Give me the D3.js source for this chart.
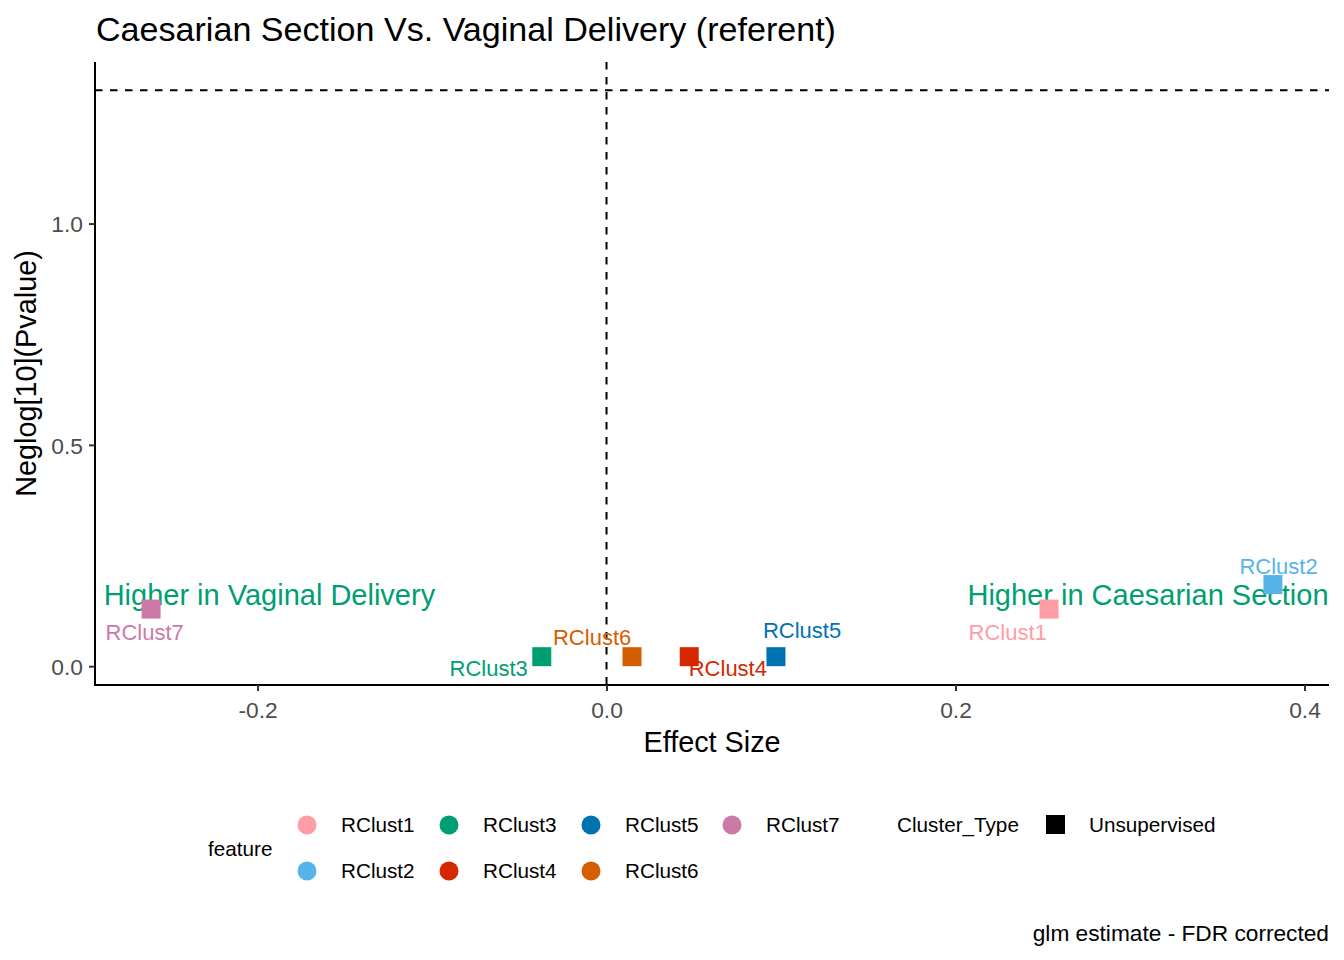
<!DOCTYPE html>
<html>
<head>
<meta charset="utf-8">
<script src="https://cdn.jsdelivr.net/npm/d3@7"></script>
<style>
  body { margin: 0; background: #fff; }
  svg { font-family: "Liberation Sans", Arial, sans-serif; }
</style>
</head>
<body>
<svg id="chart" width="1344" height="960"></svg>
<script>
const features = ["RClust1", "RClust2", "RClust3", "RClust4", "RClust5", "RClust6", "RClust7"];
const effectSize = [0.2536, 0.3819, -0.0371, 0.0474, 0.0971, 0.0146, -0.261];
const neglogP = [0.129, 0.1844, 0.0215, 0.0215, 0.0215, 0.0215, 0.129];
const featureColors = ["#FF9DA7", "#56B4E9", "#009E73", "#D52800", "#0072B2", "#D55E00", "#CC79A7"];
const xTicks = [-0.2, 0.0, 0.2, 0.4];
const yTicks = [0.0, 0.5, 1.0];
const pThreshold = -Math.log10(0.05);
const directionText = ["Higher in Vaginal Delivery", "Higher in Caesarian Section"];
const directionX = [-0.2882, 0.4138];
const directionY = [0.138, 0.138];

// repel-style label nudges (px) relative to each point
const labelNudge = [
  { dx: -80.5, dy: 30.5, anchor: "start" },
  { dx: -33.5, dy: -11, anchor: "start" },
  { dx: -14, dy: 19, anchor: "end" },
  { dx: -0.5, dy: 19, anchor: "start" },
  { dx: -13, dy: -18.5, anchor: "start" },
  { dx: -79, dy: -11.5, anchor: "start" },
  { dx: -45.5, dy: 31, anchor: "start" },
];

const panel = { left: 95, right: 1329, top: 62, bottom: 685 };
const svg = d3.select("#chart");

const data = features.map((f, i) => ({
  feature: f,
  x: effectSize[i],
  y: neglogP[i],
  color: featureColors[i],
  nudge: labelNudge[i],
}));

function expanded(values) {
  const [lo, hi] = d3.extent(values);
  const pad = (hi - lo) * 0.05;
  return [lo - pad, hi + pad];
}

const x = d3
  .scaleLinear()
  .domain(expanded([...effectSize, 0]))
  .range([panel.left, panel.right]);
const y = d3
  .scaleLinear()
  .domain(expanded([...neglogP, pThreshold]))
  .range([panel.bottom, panel.top]);

// reference lines
svg
  .append("line")
  .attr("x1", panel.left)
  .attr("x2", panel.right)
  .attr("y1", y(pThreshold))
  .attr("y2", y(pThreshold))
  .attr("stroke", "#000")
  .attr("stroke-width", 2)
  .attr("stroke-dasharray", "7.5,7.5");
svg
  .append("line")
  .attr("x1", x(0))
  .attr("x2", x(0))
  .attr("y1", panel.top)
  .attr("y2", panel.bottom)
  .attr("stroke", "#000")
  .attr("stroke-width", 2)
  .attr("stroke-dasharray", "7.5,7.5");

// axes
const xAxis = svg
  .append("g")
  .attr("transform", `translate(0,${panel.bottom})`)
  .call(d3.axisBottom(x).tickValues(xTicks).tickFormat(d3.format(".1f")).tickSize(6).tickSizeOuter(0));
const yAxis = svg
  .append("g")
  .attr("transform", `translate(${panel.left},0)`)
  .call(d3.axisLeft(y).tickValues(yTicks).tickFormat(d3.format(".1f")).tickSize(6).tickSizeOuter(0));

[xAxis, yAxis].forEach((g) => {
  g.select(".domain").attr("stroke", "#000").attr("stroke-width", 2);
  g.selectAll(".tick line").attr("stroke", "#333").attr("stroke-width", 2);
  g.selectAll(".tick text")
    .attr("fill", "#4D4D4D")
    .style("font-size", "22.8px");
});
xAxis.selectAll(".tick text").attr("dy", "1.05em").text((d) => d3.format(".1f")(d).replace("−", "-"));
yAxis.selectAll(".tick text").attr("x", -12).attr("dy", "0.36em");
// extend domain lines to meet at the corner
xAxis.select(".domain").attr("d", `M${panel.left - 1},0H${panel.right}`);
yAxis.select(".domain").attr("d", `M0,${panel.top}V${panel.bottom + 1}`);

// direction annotations
svg
  .selectAll(".direction")
  .data(directionText)
  .join("text")
  .attr("class", "direction")
  .attr("x", (d, i) => x(directionX[i]))
  .attr("y", (d, i) => y(directionY[i]))
  .attr("text-anchor", (d, i) => (i ? "end" : "start"))
  .attr("fill", "#009E73")
  .style("font-size", "29px")
  .text((d) => d);

// points
const size = 19;
svg
  .selectAll(".pt")
  .data(data)
  .join("rect")
  .attr("class", "pt")
  .attr("x", (d) => x(d.x) - size / 2)
  .attr("y", (d) => y(d.y) - size / 2)
  .attr("width", size)
  .attr("height", size)
  .attr("fill", (d) => d.color);

// point labels
svg
  .selectAll(".pt-label")
  .data(data)
  .join("text")
  .attr("class", "pt-label")
  .attr("x", (d) => x(d.x) + d.nudge.dx)
  .attr("y", (d) => y(d.y) + d.nudge.dy)
  .attr("text-anchor", (d) => d.nudge.anchor)
  .attr("fill", (d) => d.color)
  .style("font-size", "22px")
  .text((d) => d.feature);

// titles
svg
  .append("text")
  .attr("x", 96)
  .attr("y", 41)
  .style("font-size", "34.1px")
  .text("Caesarian Section Vs. Vaginal Delivery (referent)");
svg
  .append("text")
  .attr("x", (panel.left + panel.right) / 2)
  .attr("y", 752)
  .attr("text-anchor", "middle")
  .style("font-size", "28.8px")
  .text("Effect Size");
svg
  .append("text")
  .attr("transform", `translate(36,${(panel.top + panel.bottom) / 2}) rotate(-90)`)
  .attr("text-anchor", "middle")
  .style("font-size", "28.8px")
  .text("Neglog[10](Pvalue)");

// legend
const legend = svg.append("g").style("font-size", "20.7px");
legend.append("text").attr("x", 208).attr("y", 856).text("feature");
const colX = [307, 449, 591, 732];
const rowY = [825, 871];
const item = legend
  .selectAll(".legend-item")
  .data(data)
  .join("g")
  .attr("class", "legend-item")
  .attr("transform", (d, i) => `translate(${colX[Math.floor(i / 2)]},${rowY[i % 2]})`);
item.append("circle").attr("r", 9.5).attr("fill", (d) => d.color);
item
  .append("text")
  .attr("x", 34)
  .attr("dy", "0.36em")
  .text((d) => d.feature);

legend.append("text").attr("x", 897).attr("y", rowY[0]).attr("dy", "0.36em").text("Cluster_Type");
legend
  .append("rect")
  .attr("x", 1046)
  .attr("y", rowY[0] - 10)
  .attr("width", 19)
  .attr("height", 19)
  .attr("fill", "#000");
legend.append("text").attr("x", 1089).attr("y", rowY[0]).attr("dy", "0.36em").text("Unsupervised");

svg
  .append("text")
  .attr("x", 1329)
  .attr("y", 941)
  .attr("text-anchor", "end")
  .style("font-size", "22.7px")
  .text("glm estimate - FDR corrected");
</script>
</body>
</html>
